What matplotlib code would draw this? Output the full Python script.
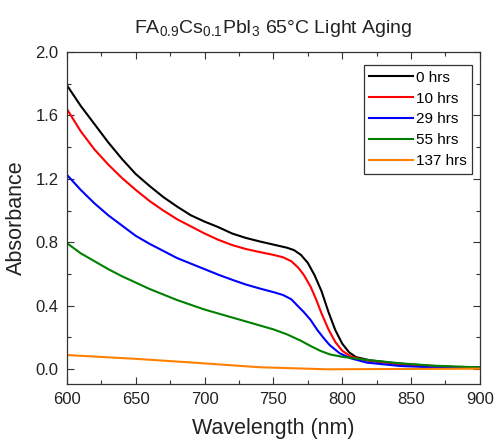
"""Absorbance spectra of FA0.9Cs0.1PbI3 film during 65 C light aging."""

import matplotlib
matplotlib.use("Agg")
import matplotlib.pyplot as plt
from matplotlib.ticker import MultipleLocator

plt.rcParams["font.family"] = ["Liberation Sans", "DejaVu Sans"]
plt.rcParams["mathtext.fontset"] = "custom"
plt.rcParams["mathtext.rm"] = "Liberation Sans"
plt.rcParams["mathtext.it"] = "Liberation Sans"

# spectra, wavelength (nm) / absorbance
wl_0h = [600, 610, 620, 630, 640, 650, 660, 670, 680, 690, 700, 710, 720, 730,
         740, 750, 760, 765, 770, 775, 780, 785, 790, 795, 800, 805, 810, 820,
         840, 860, 880, 900]
abs_0h = [1.79, 1.66, 1.545, 1.43, 1.325, 1.23, 1.155, 1.085, 1.025, 0.97,
          0.93, 0.895, 0.855, 0.827, 0.805, 0.785, 0.765, 0.75, 0.72, 0.67,
          0.59, 0.49, 0.36, 0.245, 0.16, 0.105, 0.075, 0.055, 0.035, 0.022,
          0.013, 0.008]

wl_10h = [600, 610, 620, 630, 640, 650, 660, 670, 680, 690, 700, 710, 720, 730,
          740, 750, 757, 763, 768, 772, 777, 781, 785, 790, 795, 800, 806, 812,
          820, 840, 860, 880, 900]
abs_10h = [1.64, 1.50, 1.385, 1.29, 1.205, 1.13, 1.06, 1.0, 0.945, 0.90, 0.855,
           0.815, 0.782, 0.757, 0.738, 0.72, 0.705, 0.68, 0.64, 0.595, 0.52,
           0.44, 0.35, 0.25, 0.17, 0.115, 0.08, 0.065, 0.05, 0.032, 0.02,
           0.012, 0.008]

wl_29h = [600, 610, 620, 630, 640, 650, 660, 670, 680, 690, 700, 710, 720, 730,
          740, 750, 757, 763, 768, 772, 777, 782, 787, 791, 798, 806, 818, 842,
          866, 900]
abs_29h = [1.225, 1.13, 1.045, 0.97, 0.905, 0.84, 0.79, 0.745, 0.70, 0.665,
           0.63, 0.595, 0.563, 0.533, 0.508, 0.485, 0.467, 0.44, 0.395, 0.36,
           0.31, 0.245, 0.19, 0.15, 0.10, 0.068, 0.04, 0.019, 0.01, 0.01]

wl_55h = [600, 610, 620, 630, 640, 650, 660, 670, 680, 690, 700, 710, 720, 730,
          740, 750, 760, 770, 777, 784, 791, 800, 806, 818, 842, 866, 885, 900]
abs_55h = [0.794, 0.73, 0.68, 0.63, 0.585, 0.545, 0.505, 0.47, 0.435, 0.405,
           0.375, 0.35, 0.325, 0.30, 0.275, 0.25, 0.218, 0.178, 0.145, 0.115,
           0.092, 0.077, 0.07, 0.057, 0.036, 0.021, 0.015, 0.01]

wl_137h = [600, 650, 692, 740, 789, 840, 900]
abs_137h = [0.088, 0.064, 0.04, 0.011, -0.002, 0.0, 0.002]

series = [
    ("0 hrs", wl_0h, abs_0h, "black"),
    ("10 hrs", wl_10h, abs_10h, "#ff0000"),
    ("29 hrs", wl_29h, abs_29h, "#0000ff"),
    ("55 hrs", wl_55h, abs_55h, "#008000"),
    ("137 hrs", wl_137h, abs_137h, "#ff8000"),
]

fig = plt.figure(figsize=(4.98, 4.45), dpi=100)
ax = fig.add_axes([0.1345, 0.137, 0.829, 0.746])

for label, wl, ab, color in series:
    ax.plot(wl, ab, color=color, lw=1.5, label=label)

ax.set_xlim(600, 900)
ax.set_ylim(-0.095, 2.0)
ax.xaxis.set_major_locator(MultipleLocator(50))
ax.xaxis.set_minor_locator(MultipleLocator(25))
ax.yaxis.set_major_locator(MultipleLocator(0.4))
ax.yaxis.set_minor_locator(MultipleLocator(0.2))
ax.yaxis.set_major_formatter(plt.FormatStrFormatter("%.1f"))

frame = "#333333"
for sp in ax.spines.values():
    sp.set_color(frame)
    sp.set_linewidth(0.9)
ax.tick_params(which="both", direction="in", top=True, right=True,
               color=frame, labelsize=12, labelcolor="#222222")
ax.tick_params(which="major", length=5, width=0.8, pad=6)
ax.tick_params(which="minor", length=3, width=0.8)

ax.set_xlabel("Wavelength (nm)", fontsize=15.5, color="#222222", labelpad=8)
ax.set_ylabel("Absorbance", fontsize=15.5, color="#222222", labelpad=6)
ax.set_title(r"FA$_{0.9}$Cs$_{0.1}$PbI$_3$ 65°C Light Aging",
             fontsize=14, color="#222222", pad=14)

leg = ax.legend(loc="upper right", bbox_to_anchor=(0.982, 0.96), fontsize=11,
                frameon=True, fancybox=False, handlelength=2.9,
                handletextpad=0.2, labelspacing=0.45, borderpad=0.35,
                borderaxespad=0)
leg.get_frame().set_edgecolor("black")
leg.get_frame().set_linewidth(0.9)

fig.savefig("out.png", dpi=100)
